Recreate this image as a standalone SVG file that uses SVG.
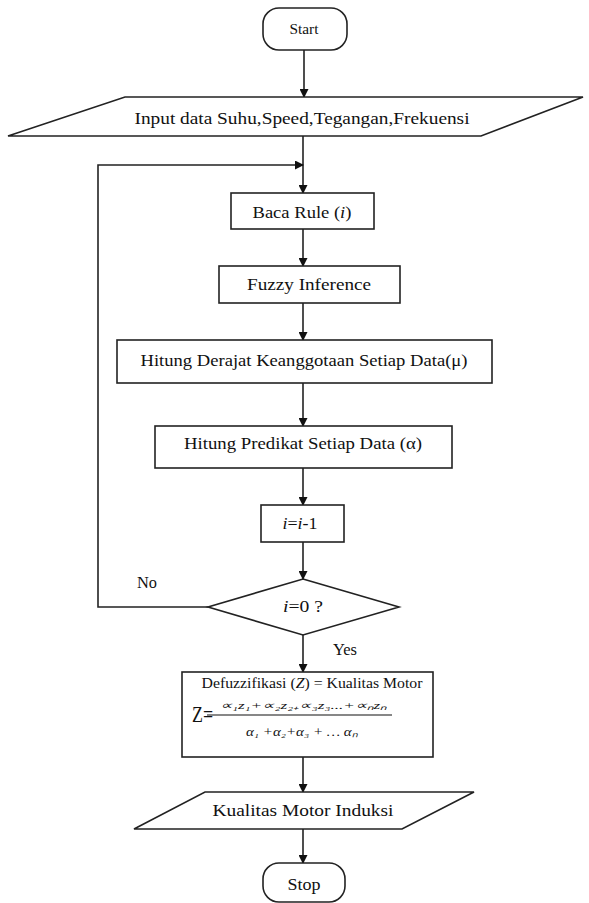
<svg xmlns="http://www.w3.org/2000/svg" width="589" height="903" viewBox="0 0 589 903">
<style>
.s{fill:#fff;stroke:#222;stroke-width:1.6}
.c{fill:none;stroke:#222;stroke-width:1.6}
text{font-family:"Liberation Serif","Times New Roman",serif;fill:#111;font-size:17px}
.m{text-anchor:middle}
.it{font-style:italic}
</style>
<defs>
<marker id="ah" markerWidth="9" markerHeight="9" refX="8" refY="4.5" orient="auto" markerUnits="userSpaceOnUse">
<path d="M0,0 L9,4.5 L0,9 Z" fill="#111"/>
</marker>
</defs>
<rect width="589" height="903" fill="#fff"/>
<g id="connectors">
<line class="c" x1="304" y1="50" x2="304" y2="97" marker-end="url(#ah)"/>
<line class="c" x1="303" y1="136" x2="303" y2="193" marker-end="url(#ah)"/>
<polyline class="c" points="208,607 98,607 98,165 303,165" marker-end="url(#ah)"/>
<line class="c" x1="303" y1="229" x2="303" y2="266" marker-end="url(#ah)"/>
<line class="c" x1="303" y1="303" x2="303" y2="340" marker-end="url(#ah)"/>
<line class="c" x1="303" y1="383" x2="303" y2="426" marker-end="url(#ah)"/>
<line class="c" x1="303" y1="468" x2="303" y2="505" marker-end="url(#ah)"/>
<line class="c" x1="303" y1="542" x2="303" y2="579" marker-end="url(#ah)"/>
<line class="c" x1="303" y1="635" x2="303" y2="672" marker-end="url(#ah)"/>
<line class="c" x1="303" y1="757" x2="303" y2="792" marker-end="url(#ah)"/>
<line class="c" x1="303" y1="829" x2="303" y2="863" marker-end="url(#ah)"/>
<text x="147" y="588" class="m" style="font-size:16px" textLength="20" lengthAdjust="spacingAndGlyphs">No</text>
<text x="345" y="655" class="m" style="font-size:16px" textLength="24" lengthAdjust="spacingAndGlyphs">Yes</text>
</g>
<g id="start">
<rect class="s" x="263" y="8" width="84" height="42" rx="16"/>
<text x="304" y="34" class="m" style="font-size:15px" textLength="29" lengthAdjust="spacingAndGlyphs">Start</text>
</g>
<g id="input">
<polygon class="s" points="125,97 583,97 481,136 8,136"/>
<text x="302" y="124" class="m" textLength="335" lengthAdjust="spacingAndGlyphs">Input data Suhu,Speed,Tegangan,Frekuensi</text>
</g>
<g id="baca">
<rect class="s" x="231" y="193" width="143" height="36"/>
<text x="302" y="218" class="m" textLength="99" lengthAdjust="spacingAndGlyphs">Baca Rule (<tspan class="it">i</tspan>)</text>
</g>
<g id="fuzzy">
<rect class="s" x="219" y="266" width="181" height="37"/>
<text x="309" y="290" class="m" textLength="124" lengthAdjust="spacingAndGlyphs">Fuzzy Inference</text>
</g>
<g id="derajat">
<rect class="s" x="117" y="340" width="375" height="43"/>
<text x="304" y="366" class="m" textLength="327" lengthAdjust="spacingAndGlyphs">Hitung Derajat Keanggotaan Setiap Data(μ)</text>
</g>
<g id="predikat">
<rect class="s" x="155" y="426" width="297" height="42"/>
<text x="303" y="449" class="m" textLength="238" lengthAdjust="spacingAndGlyphs">Hitung Predikat Setiap Data (α)</text>
</g>
<g id="decrement">
<rect class="s" x="261" y="505" width="83" height="37"/>
<text x="300" y="529" class="m" textLength="35" lengthAdjust="spacingAndGlyphs"><tspan class="it">i</tspan>=<tspan class="it">i</tspan>-1</text>
</g>
<g id="decision">
<polygon class="s" points="303,579 399,607 303,635 208,607"/>
<text x="303" y="612" class="m" textLength="40" lengthAdjust="spacingAndGlyphs"><tspan class="it">i</tspan>=0 ?</text>
</g>
<g id="defuzz">
<rect class="s" x="182" y="672" width="251" height="85"/>
<text x="312" y="688" class="m" style="font-size:14px" textLength="221" lengthAdjust="spacingAndGlyphs">Defuzzifikasi (<tspan class="it">Z</tspan>) = Kualitas Motor</text>
<text x="192" y="722" style="font-size:23px" textLength="21" lengthAdjust="spacingAndGlyphs">Z=</text>
<line x1="207" y1="715" x2="392" y2="715" stroke="#111" stroke-width="1.2"/>
<text x="303" y="709" class="m it" style="font-size:11px" textLength="167" lengthAdjust="spacingAndGlyphs">∝₁z₁+∝₂z₂₊∝₃z₃...+∝ₙzₙ</text>
<text x="302" y="736" class="m it" style="font-size:12px" textLength="112" lengthAdjust="spacingAndGlyphs">α₁ +α₂+α₃ + … αₙ</text>
</g>
<g id="output">
<polygon class="s" points="205,792 474,792 402,829 134,829"/>
<text x="303" y="816" class="m" textLength="181" lengthAdjust="spacingAndGlyphs">Kualitas Motor Induksi</text>
</g>
<g id="stop">
<rect class="s" x="263" y="863" width="82" height="39" rx="16"/>
<text x="304" y="890" class="m" style="font-size:16px" textLength="33" lengthAdjust="spacingAndGlyphs">Stop</text>
</g>
</svg>
